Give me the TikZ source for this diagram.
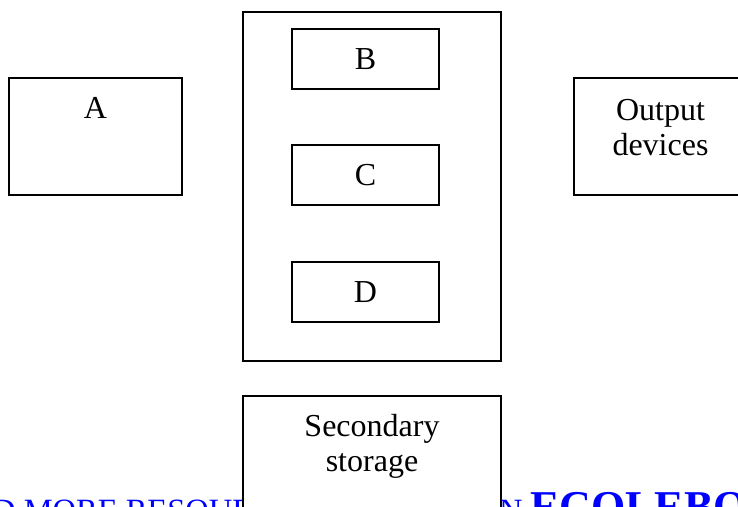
\documentclass[tikz,border=0pt]{standalone}
\usepackage{fontspec}
\setmainfont{Liberation Serif}
\usetikzlibrary{positioning}

\tikzset{
    unit/.style={draw, line width=1.4pt, fill=white, inner sep=0pt},
    lbl/.style={inner sep=0pt, align=center},
    ad/.style={inner sep=0pt, text=blue}
}

\begin{document}
\begin{tikzpicture}[x=1pt, y=1pt, font=\fontsize{32}{35}\selectfont]
    \def\w{173};
    \def\h{117};
    \useasboundingbox (0,0) rectangle (738,506);
    \clip (0,0) rectangle (738,506);

    \node[ad, anchor=base west, font=\fontsize{32.5}{35}\selectfont] (ad1) at (-8,-15.5) {D MORE RESOUR};
    \node[ad, anchor=base west, font=\fontsize{32.5}{35}\selectfont] (ad2) at (499,-15.5) {N};
    \node[ad, anchor=base west, font=\fontsize{44}{48}\selectfont\bfseries] (ad3) at (530,-15.5) {ECOLEBO};

    \node[unit, minimum width=\w, minimum height=\h] (A) at (95.5,369.5) {};
    \node[lbl, below=20pt of A.north] (Alab) {A};

    \node[unit, minimum width=258, minimum height=349] (cpu) at (372,319.5) {};
    \node[unit, minimum width=147, minimum height=60] (B) at (365.5,447) {B};
    \node[unit, minimum width=147, minimum height=60] (C) at (365.5,331) {C};
    \node[unit, minimum width=147, minimum height=60] (D) at (365.5,214) {D};

    \node[unit, minimum width=\w, minimum height=\h] (out) at (660.5,369.5) {};
    \node[lbl, below=22pt of out.north] (outlab) {Output\\devices};

    \node[unit, minimum width=258, minimum height=\h] (sec) at (372,51.5) {};
    \node[lbl, below=19pt of sec.north] (seclab) {Secondary\\storage};
\end{tikzpicture}
\end{document}
